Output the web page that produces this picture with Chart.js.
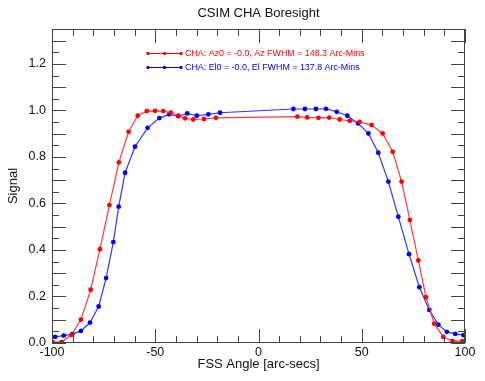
<!DOCTYPE html>
<html><head><meta charset="utf-8">
<script src="https://cdn.jsdelivr.net/npm/chart.js@4"></script>
<style>html,body{margin:0;padding:0;background:#fff}#w{width:485px;height:381px;position:relative}</style>
</head><body><div id="w"><canvas id="c"></canvas></div>
<script>
// ---- data ----
const azX = [-99.7,-95.3,-90.5,-86.0,-81.3,-76.8,-72.2,-67.6,-62.9,-58.5,-54.1,-50.1,-46.1,-42.5,-38.8,-35.6,-31.6,-26.4,-20.6,
             18.8,23.6,29.0,34.2,39.3,44.2,49.0,54.8,60.1,65.0,69.3,73.3,77.4,81.1,85.1,89.5,94.0,98.7];
const azY = [0.004,0.004,0.035,0.100,0.229,0.403,0.593,0.777,0.908,0.977,0.997,0.998,0.997,0.990,0.977,0.966,0.961,0.963,0.968,
             0.973,0.970,0.968,0.969,0.961,0.955,0.951,0.937,0.901,0.822,0.694,0.529,0.355,0.197,0.083,0.026,0.008,0.008];
const elX = [-98.5,-94.3,-90.2,-86.0,-81.6,-77.4,-73.8,-70.3,-67.7,-64.6,-59.8,-53.7,-48.0,-43.2,-38.8,-34.5,-29.9,-24.3,-18.6,
             16.9,22.5,27.8,32.7,37.9,43.0,48.2,53.2,58.0,62.9,67.7,72.9,77.9,82.7,87.1,91.2,95.3,99.2];
const elY = [0.026,0.032,0.038,0.052,0.088,0.157,0.279,0.434,0.586,0.732,0.844,0.925,0.967,0.983,0.975,0.987,0.977,0.983,0.990,
             1.006,1.006,1.006,1.007,0.994,0.977,0.944,0.901,0.818,0.694,0.543,0.382,0.240,0.142,0.079,0.048,0.039,0.034];
const xTickLabels = [-100, -50, 0, 50, 100];
const yTickLabels = [0.0, 0.2, 0.4, 0.6, 0.8, 1.0, 1.2];
const seriesNames = ["CHA: Az0 = -0.0, Az FWHM = 148.3 Arc-Mins", "CHA: El0 = -0.0, El FWHM = 137.8 Arc-Mins"];
const titleText = "CSIM CHA Boresight";
const xTitle = "FSS Angle [arc-secs]";
const yTitle = "Signal";

const FONT = "'Liberation Sans', Arial, Helvetica, sans-serif";
const RED = '#ff0000', BLUE = '#0000ff', AXIS = '#444';

function pts(xs, ys) { return xs.map((x, i) => ({x, y: ys[i]})); }
function near(v, list) { return list.some(t => Math.abs(t - v) < 1e-6); }

const decor = {
  id: 'decor',
  afterDraw(chart) {
    const ctx = chart.ctx, a = chart.chartArea, sx = chart.scales.x, sy = chart.scales.y;
    ctx.save();
    ctx.strokeStyle = AXIS; ctx.lineWidth = 1;
    ctx.strokeRect(Math.round(a.left) + 0.5, Math.round(a.top) + 0.5, Math.round(a.right - a.left) - 1, Math.round(a.bottom - a.top) - 1);
    ctx.beginPath();
    sx.ticks.forEach(t => {
      const px = Math.round(sx.getPixelForValue(t.value)) + 0.5;
      const len = near(t.value, xTickLabels) ? 14 : 7;
      ctx.moveTo(px, a.bottom); ctx.lineTo(px, a.bottom - len);
      ctx.moveTo(px, a.top); ctx.lineTo(px, a.top + len);
    });
    sy.ticks.forEach(t => {
      const py = Math.round(sy.getPixelForValue(t.value)) + 0.5;
      const len = (Math.abs(t.value / 0.1 - Math.round(t.value / 0.1)) < 1e-6) ? 14 : 7;
      ctx.moveTo(a.left, py); ctx.lineTo(a.left + len, py);
      ctx.moveTo(a.right, py); ctx.lineTo(a.right - len, py);
    });
    ctx.stroke();

    // titles
    ctx.fillStyle = '#111';
    ctx.textAlign = 'center'; ctx.textBaseline = 'middle';
    ctx.font = '13px ' + FONT;
    ctx.fillText(titleText, (a.left + a.right) / 2, 13);
    ctx.font = '13px ' + FONT;
    ctx.fillText(xTitle, (a.left + a.right) / 2, 364);
    ctx.save();
    ctx.translate(13.5, 186); ctx.rotate(-Math.PI / 2);
    ctx.fillText(yTitle, 0, 0);
    ctx.restore();

    // legend inside plot
    const cols = [RED, BLUE];
    ctx.font = '8.9px ' + FONT;
    ctx.textAlign = 'left';
    [53.5, 67.5].forEach((y, i) => {
      ctx.strokeStyle = cols[i]; ctx.fillStyle = cols[i]; ctx.lineWidth = 1.1;
      ctx.beginPath(); ctx.moveTo(148, y); ctx.lineTo(181, y); ctx.stroke();
      [148, 164.5, 181].forEach(x => { ctx.beginPath(); ctx.arc(x, y, 1.7, 0, Math.PI * 2); ctx.fill(); });
      ctx.fillText(seriesNames[i], 185, y + 0.5);
    });
    ctx.restore();
  }
};

new Chart(document.getElementById('c'), {
  type: 'scatter',
  data: {
    datasets: [
      { label: seriesNames[0], data: pts(azX, azY), showLine: true, borderColor: 'rgba(255,40,40,0.9)', backgroundColor: RED,
        borderWidth: 1.2, pointRadius: 2.4, pointBorderWidth: 0, pointHoverRadius: 2.4 },
      { label: seriesNames[1], data: pts(elX, elY), showLine: true, borderColor: 'rgba(30,30,255,0.9)', backgroundColor: BLUE,
        borderWidth: 1.2, pointRadius: 2.4, pointBorderWidth: 0, pointHoverRadius: 2.4 }
    ]
  },
  options: {
    responsive: true, maintainAspectRatio: false, animation: false, devicePixelRatio: 1,
    layout: { padding: { top: 29, right: 20, left: 0, bottom: 0 } },
    plugins: { legend: { display: false }, title: { display: false }, tooltip: { enabled: false } },
    scales: {
      x: {
        type: 'linear', min: -100, max: 100,
        grid: { display: false, drawTicks: false }, border: { display: false },
        afterFit: s => { s.height = 38; },
        ticks: { stepSize: 10, autoSkip: false, maxRotation: 0, padding: 2, color: '#111', font: { family: FONT, size: 12.5 },
          callback: v => near(v, xTickLabels) ? String(Math.round(v)) : '' }
      },
      y: {
        type: 'linear', min: 0, max: 1.35,
        grid: { display: false, drawTicks: false }, border: { display: false },
        afterFit: s => { s.width = 52; },
        ticks: { stepSize: 0.05, autoSkip: false, padding: 6, color: '#111', font: { family: FONT, size: 12.5 },
          callback: v => near(v, yTickLabels) ? v.toFixed(1) : '' }
      }
    }
  },
  plugins: [decor]
});
</script>
</body></html>
